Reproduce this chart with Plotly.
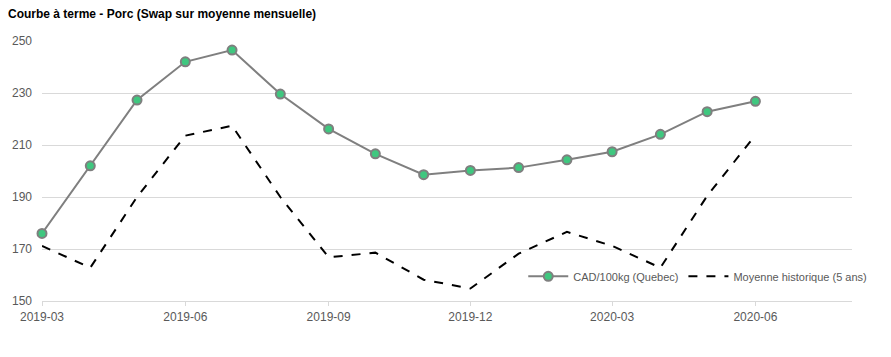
import plotly.graph_objects as go

months = ["2019-03-01", "2019-04-01", "2019-05-01", "2019-06-01", "2019-07-01", "2019-08-01",
          "2019-09-01", "2019-10-01", "2019-11-01", "2019-12-01", "2020-01-01", "2020-02-01",
          "2020-03-01", "2020-04-01", "2020-05-01", "2020-06-01"]
cad_quebec = [176, 202, 227.3, 242, 246.5, 229.6, 216.2, 206.6, 198.6, 200.2, 201.3, 204.3,
              207.4, 214.1, 222.8, 226.8]
moyenne_hist = [171.2, 162.8, 190, 213.6, 217.4, 190, 166.8, 168.6, 158.2, 154.8, 168.2, 176.6,
                171.2, 162.8, 190.4, 213.8]
tick_vals = ["2019-03-01", "2019-06-01", "2019-09-01", "2019-12-01", "2020-03-01", "2020-06-01"]
tick_text = ["2019-03", "2019-06", "2019-09", "2019-12", "2020-03", "2020-06"]
y_ticks = [150, 170, 190, 210, 230, 250]

fig = go.Figure()
fig.add_trace(go.Scatter(
    x=months, y=cad_quebec, name="CAD/100kg (Quebec)", mode="lines+markers",
    line=dict(color="#7f7f7f", width=2), cliponaxis=False,
    marker=dict(size=9, color="#3fc77f", line=dict(color="#7f7f7f", width=2)),
))
fig.add_trace(go.Scatter(
    x=months, y=moyenne_hist, name="Moyenne historique (5 ans)", mode="lines",
    line=dict(color="#000000", width=2, dash="dash"), cliponaxis=False,
))

fig.update_layout(
    width=883, height=349,
    margin=dict(l=34, r=39, t=33, b=56, autoexpand=False),
    paper_bgcolor="white", plot_bgcolor="white",
    font=dict(family="Liberation Sans, Arial, sans-serif", size=11, color="#595959"),
    title=dict(text="<b>Courbe à terme - Porc (Swap sur moyenne mensuelle)</b>",
               x=0, xanchor="left", y=0.983, yanchor="middle", pad=dict(l=0, t=0),
               font=dict(size=12, color="#000000")),
    showlegend=True,
    legend=dict(orientation="h", x=1.025, xanchor="right", y=0.095, yanchor="middle",
                bgcolor="rgba(0,0,0,0)", font=dict(size=11, color="#595959"),
                itemwidth=40),
    xaxis=dict(range=["2019-03-01", "2020-08-02"], tickvals=tick_vals, ticktext=tick_text,
               showgrid=False, showline=True, linecolor="#d9d9d9", linewidth=1,
               ticks="outside", ticklen=4, tickcolor="#d9d9d9", zeroline=False,
               ticklabelstandoff=1,
               automargin=False, tickfont=dict(size=12, color="#595959")),
    yaxis=dict(range=[150, 250], tickvals=y_ticks, showgrid=True, gridcolor="#d9d9d9",
               gridwidth=1, zeroline=False, showline=False, ticks="",
               ticklabelstandoff=9,
               automargin=False, tickfont=dict(size=12, color="#595959")),
)

fig.write_html("out.html")
